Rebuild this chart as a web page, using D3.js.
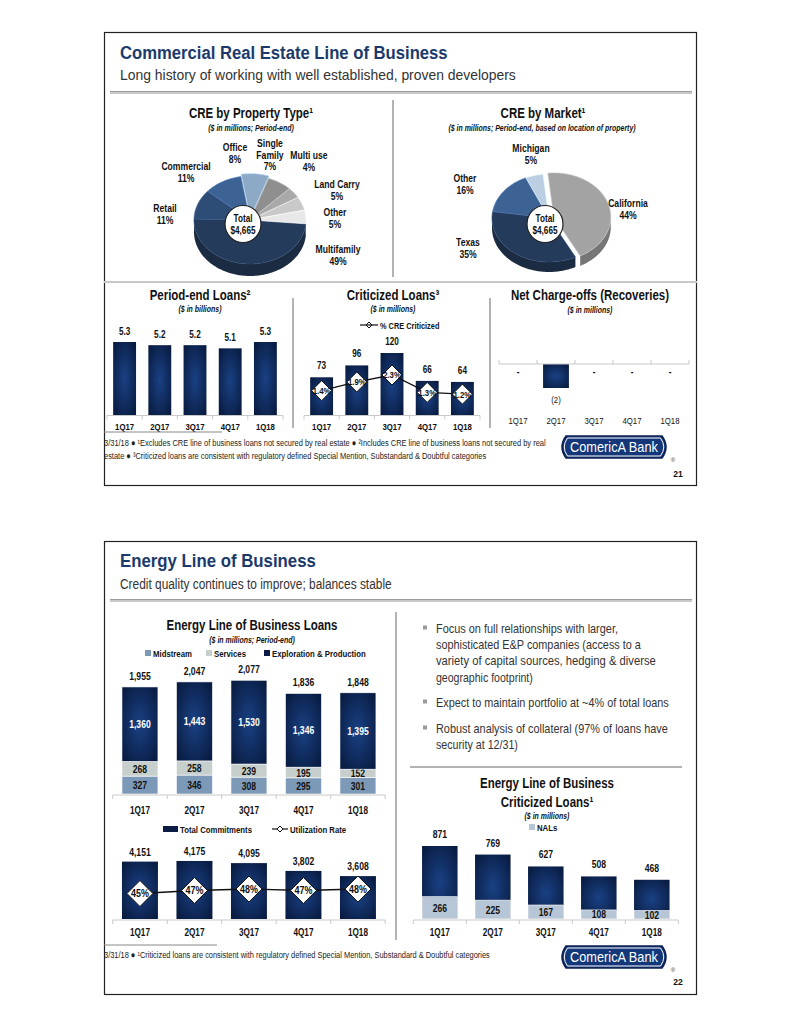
<!DOCTYPE html>
<html><head><meta charset="utf-8">
<script src="https://cdn.jsdelivr.net/npm/d3@7"></script>
<style>
body{margin:0;background:#fff}
svg{display:block}
text{font-family:'Liberation Sans',Arial,sans-serif}
</style></head>
<body><svg id="c" width="791" height="1024"></svg>
<script>
// ---------------- DATA ----------------
const quarters = ["1Q17","2Q17","3Q17","4Q17","1Q18"];
const propertyTypes = ["Multifamily","Retail","Commercial","Office","Single Family","Multi use","Land Carry","Other"];
const propertyPct = [49,11,11,8,7,4,5,5];
const markets = ["California","Texas","Other","Michigan"];
const marketPct = [44,35,16,5];
const creTotalLabel = "$4,665";
const periodEndLoans = [5.3,5.2,5.2,5.1,5.3];
const criticizedLoans = [73,96,120,66,64];
const creCriticizedPct = [1.4,1.9,2.3,1.3,1.2];
const netChargeOffs = [0,-2,0,0,0];
const energySeries = ["Midstream","Services","Exploration & Production"];
const midstream = [327,346,308,295,301];
const services = [268,258,239,195,152];
const explorationProduction = [1360,1443,1530,1346,1395];
const energyTotals = [1955,2047,2077,1836,1848];
const totalCommitments = [4151,4175,4095,3802,3608];
const utilizationRate = [45,47,48,47,48];
const energyCriticized = [871,769,627,508,468];
const energyNALs = [266,225,167,108,102];
const bullets = [
  ["Focus on full relationships with larger,","sophisticated E&P companies (access to a","variety of capital sources, hedging & diverse","geographic footprint)"],
  ["Expect to maintain portfolio at ~4% of total loans"],
  ["Robust analysis of collateral (97% of loans have","security at 12/31)"]
];

// ---------------- HELPERS ----------------
const svg = d3.select("#c");
const defs = svg.append("defs");
const rg = defs.append("radialGradient").attr("id","navy").attr("cx","50%").attr("cy","50%").attr("r","75%");
rg.append("stop").attr("offset","0").attr("stop-color","#1a4184");
rg.append("stop").attr("offset","1").attr("stop-color","#061637");
const SX = 0.82;

function T(x,y,s,o={}){
  const t = svg.append("text").text(s)
    .attr("font-size",o.size||10).attr("font-weight",o.bold?"bold":"normal")
    .attr("font-style",o.italic?"italic":"normal")
    .attr("fill",o.fill||"#111").attr("text-anchor",o.anchor||"middle");
  if(o.family) t.attr("font-family",o.family);
  if(o.len){
    t.attr("transform",`translate(${x},${y})`);
    const w = t.node().getComputedTextLength();
    t.attr("transform",`translate(${x},${y}) scale(${o.len/w},1)`);
  } else {
    t.attr("transform",`translate(${x},${y}) scale(${o.sx||SX},1)`);
  }
  return t;
}
function line(x1,y1,x2,y2,c,w){
  svg.append("line").attr("x1",x1).attr("y1",y1).attr("x2",x2).attr("y2",y2)
    .attr("stroke",c).attr("stroke-width",w||1);
}
function axisBase(x,y0,tickUp){
  const [r0,r1]=x.range();
  line(r0,y0,r1,y0,"#c9c9c9",1);
  const n=x.domain().length;
  for(let i=0;i<=n;i++){
    const xx=r0+i*x.step();
    line(xx,y0,xx,y0+(tickUp?-4:4),"#c9c9c9",1);
  }
}
function diamond(g,x,y,h,label,fs,sx){
  g.append("path").attr("d",`M${x},${y-h}L${x+h},${y}L${x},${y+h}L${x-h},${y}Z`)
    .attr("fill","#fff").attr("stroke","#111").attr("stroke-width",1);
  if(label) T(x,y+fs*0.36,label,{size:fs,bold:true,sx:sx||SX});
}
function logo(x,y,num,numY){
  const w=108,h=22;
  svg.append("path").attr("d",`M${x+6},${y} L${x+w-6},${y} Q${x+w+2},${y+h/2} ${x+w-6},${y+h} L${x+6},${y+h} Q${x-2},${y+h/2} ${x+6},${y} Z`)
    .attr("fill","#14377a").attr("stroke","#0b2050").attr("stroke-width",1.5);
  svg.append("path").attr("d",`M${x+7.5},${y+2} L${x+w-7.5},${y+2} Q${x+w-1},${y+h/2} ${x+w-7.5},${y+h-2} L${x+7.5},${y+h-2} Q${x+1},${y+h/2} ${x+7.5},${y+2} Z`)
    .attr("fill","none").attr("stroke","#fff").attr("stroke-width",1);
  T(x+w/2,y+16,"ComericA Bank",{family:"'Liberation Serif',serif",size:15,fill:"#fff",len:88});
  T(x+w+5,y+h+4,"®",{size:6,fill:"#333",sx:1});
  T(x+w+10,numY,num,{size:9.5,bold:true,sx:0.9});
}
function frame(y){
  svg.append("rect").attr("x",104.5).attr("y",y+0.5).attr("width",592).attr("height",453)
    .attr("fill","#fff").attr("stroke","#222").attr("stroke-width",1.2);
}
function headSep(y){
  svg.append("rect").attr("x",110).attr("y",y-1).attr("width",582).attr("height",3).attr("fill","#c8c8c8");
  svg.append("rect").attr("x",110).attr("y",y-1).attr("width",582).attr("height",1).attr("fill","#9c9c9c");
}

// 3D pie
function pie3D(names,vals,colors,cx,cy,rx,ry,depth,start,explode,hole){
  const arcs = d3.pie().sort(null).startAngle(start).endAngle(start+2*Math.PI)(vals);
  const g = svg.append("g");
  const pt=(a,dx,dy,dd)=>[cx+dx+rx*Math.sin(a), cy+dy-ry*Math.cos(a)+(dd||0)];
  const items = arcs.map((a,i)=>{
    const mid=(a.startAngle+a.endAngle)/2, e=explode(names[i]);
    return {a,i,dx:e*Math.sin(mid),dy:-e*Math.cos(mid)*ry/rx};
  });
  items.forEach(({a,i,dx,dy})=>{
    const ranges=[[Math.PI/2,1.5*Math.PI],[2.5*Math.PI,3.5*Math.PI]];
    ranges.forEach(([r0,r1])=>{
      const s=Math.max(a.startAngle,r0), e=Math.min(a.endAngle,r1);
      if(e<=s) return;
      const steps=d3.range(s,e,0.02).concat([e]);
      const top=steps.map(t=>pt(t,dx,dy));
      const bot=steps.slice().reverse().map(t=>pt(t,dx,dy,depth));
      g.append("path").attr("d","M"+top.concat(bot).map(p=>p.join(",")).join("L")+"Z")
        .attr("fill",d3.color(colors[i]).darker(0.9));
    });
  });
  items.forEach(({a,i,dx,dy})=>{
    const steps=d3.range(a.startAngle,a.endAngle,0.02).concat([a.endAngle]);
    const pts=[[cx+dx,cy+dy]].concat(steps.map(t=>pt(t,dx,dy)));
    g.append("path").attr("d","M"+pts.map(p=>p.join(",")).join("L")+"Z")
      .attr("fill",colors[i]).attr("stroke",d3.color(colors[i]).brighter(0.6)).attr("stroke-width",0.6);
  });
  g.append("ellipse").attr("cx",hole[0]).attr("cy",hole[1]).attr("rx",18).attr("ry",18.5)
    .attr("fill","#fff").attr("stroke","#222").attr("stroke-width",1.2);
  T(hole[0],hole[1]-2,"Total",{size:10,bold:true});
  T(hole[0],hole[1]+10,creTotalLabel,{size:10,bold:true});
}
function pieLabel(x,ys,lines){
  lines.forEach((s,k)=>T(x,ys+k*11.5,s,{size:10.5,bold:true}));
}

// ================= SLIDE 1 =================
frame(32);
T(120,58.5,"Commercial Real Estate Line of Business",{size:18,bold:true,fill:"#1b3a6b",anchor:"start",len:328});
T(120,80,"Long history of working with well established, proven developers",{size:14.5,fill:"#333",anchor:"start",len:396});
headSep(92);

T(251,118,"CRE by Property Type¹",{size:14,bold:true});
T(251,131,"($ in millions; Period-end)",{size:8.5,bold:true,italic:true});
T(543,118,"CRE by Market¹",{size:14,bold:true});
T(542,131,"($ in millions; Period-end, based on location of property)",{size:8.5,bold:true,italic:true});
line(393,100,393,277,"#9a9a9a",1.5);
line(104,282,697,282,"#c8c8c8",2);

const propColors=["#253b5b","#2e4d76","#3d6294","#8caac6","#8f8f8f","#a9a9a9","#c9c9c9","#e8e8e8"];
pie3D(propertyTypes,propertyPct,propColors,250,220,56,44,12,95*Math.PI/180,
  n=>n==="Office"?3:0,[243,224]);
const pl = (n)=>propertyPct[propertyTypes.indexOf(n)]+"%";
pieLabel(235,151,["Office",pl("Office")]);
pieLabel(270,147,["Single","Family",pl("Single Family")]);
pieLabel(309,159,["Multi use",pl("Multi use")]);
pieLabel(186,170,["Commercial",pl("Commercial")]);
pieLabel(337,188,["Land Carry",pl("Land Carry")]);
pieLabel(165,212,["Retail",pl("Retail")]);
pieLabel(335,216,["Other",pl("Other")]);
pieLabel(338,253,["Multifamily",pl("Multifamily")]);

const mktColors=["#a3a3a3","#253b5b","#3d6294","#bccfe2"];
pie3D(markets,marketPct,mktColors,549,218,57,44,10,-6*Math.PI/180,
  n=>n==="California"?5:0,[545,224]);
const ml=(n)=>marketPct[markets.indexOf(n)]+"%";
pieLabel(531,152,["Michigan",ml("Michigan")]);
pieLabel(465,182,["Other",ml("Other")]);
pieLabel(628,207,["California",ml("California")]);
pieLabel(468,246,["Texas",ml("Texas")]);

// Period-end loans
T(200,300,"Period-end Loans²",{size:14,bold:true});
T(200,312,"($ in billions)",{size:8.5,bold:true,italic:true});
{
  const x=d3.scaleBand().domain(quarters).range([107,283]).paddingInner(0.35).paddingOuter(0.175);
  const y=d3.scaleLinear().domain([3,5.3]).range([415,342]);
  svg.append("g").selectAll("rect").data(periodEndLoans).join("rect")
    .attr("x",(d,i)=>x(quarters[i])).attr("width",x.bandwidth())
    .attr("y",d=>y(d)).attr("height",d=>y(3)-y(d)).attr("fill","url(#navy)");
  axisBase(x,415.5);
  periodEndLoans.forEach((d,i)=>T(x(quarters[i])+x.bandwidth()/2,y(d)-7,d3.format(".1f")(d),{size:10,bold:true}));
  quarters.forEach(q=>T(x(q)+x.bandwidth()/2,429.5,q,{size:9.5,bold:true}));
}
line(293,298,293,428,"#9a9a9a",1.5);

// Criticized loans
T(393,300,"Criticized Loans³",{size:14,bold:true});
T(393,312,"($ in millions)",{size:8.5,bold:true,italic:true});
{
  const g=svg.append("g");
  line(360,325,378,325,"#111",1.2);
  diamond(g,369,325,3,null,0);
  T(380,328.5,"% CRE Criticized",{size:9,bold:true,anchor:"start"});
  const x=d3.scaleBand().domain(quarters).range([304,480]).paddingInner(0.35).paddingOuter(0.175);
  const y=d3.scaleLinear().domain([0,120]).range([415,353]);
  const y2=d3.scaleLinear().domain([0,2.3]).range([415,375]);
  g.selectAll("rect").data(criticizedLoans).join("rect")
    .attr("x",(d,i)=>x(quarters[i])).attr("width",x.bandwidth())
    .attr("y",d=>y(d)).attr("height",d=>y(0)-y(d)).attr("fill","url(#navy)");
  axisBase(x,415.5);
  criticizedLoans.forEach((d,i)=>T(x(quarters[i])+x.bandwidth()/2,y(d)-8,d,{size:10,bold:true}));
  const cxs=quarters.map(q=>x(q)+x.bandwidth()/2);
  g.append("path").attr("d",d3.line().x((d,i)=>cxs[i]).y(d=>y2(d))(creCriticizedPct))
    .attr("fill","none").attr("stroke","#111").attr("stroke-width",1.3);
  creCriticizedPct.forEach((d,i)=>diamond(g,cxs[i],y2(d),10,d3.format(".1f")(d)+"%",9.5,0.82));
  quarters.forEach(q=>T(x(q)+x.bandwidth()/2,429.5,q,{size:9.5,bold:true}));
}
line(490,298,490,428,"#9a9a9a",1.5);

// Net charge-offs
T(590,300,"Net Charge-offs (Recoveries)",{size:14,bold:true});
T(590,313,"($ in millions)",{size:8.5,bold:true,italic:true});
{
  const x=d3.scaleBand().domain(quarters).range([499,689]).paddingInner(0.32).paddingOuter(0.16);
  const y=d3.scaleLinear().domain([-2,0]).range([388,364]);
  svg.append("g").selectAll("rect").data(netChargeOffs).join("rect")
    .attr("x",(d,i)=>x(quarters[i])).attr("width",x.bandwidth())
    .attr("y",d=>y(Math.max(0,d))).attr("height",d=>Math.abs(y(d)-y(0))).attr("fill","url(#navy)");
  axisBase(x,364,true);
  netChargeOffs.forEach((d,i)=>{
    const cx=x(quarters[i])+x.bandwidth()/2;
    if(d===0) T(cx,375,"-",{size:10,bold:true});
    else T(cx,y(d)+15,"("+Math.abs(d)+")",{size:9.5});
  });
  quarters.forEach(q=>T(x(q)+x.bandwidth()/2,423.5,q,{size:9.5}));
}

// footnote
line(104,432,222,432,"#888",1);
T(104,446,"3/31/18 ● ¹Excludes CRE line of business loans not secured by real estate ● ²Includes CRE line of business loans not secured by real",{size:9,anchor:"start",fill:"#222",len:442});
T(104,459,"estate ● ³Criticized loans are consistent with regulatory defined Special Mention, Substandard & Doubtful categories",{size:9,anchor:"start",fill:"#222",len:383});
logo(560,436,"21",477);

// ================= SLIDE 2 =================
frame(541);
T(120,566.5,"Energy Line of Business",{size:18,bold:true,fill:"#1b3a6b",anchor:"start",len:196});
T(120,588.5,"Credit quality continues to improve; balances stable",{size:14.5,fill:"#333",anchor:"start",len:272});
headSep(600);
line(396,612,396,940,"#9a9a9a",1.5);

T(252,630,"Energy Line of Business Loans",{size:14,bold:true});
T(252,643,"($ in millions; Period-end)",{size:8.5,bold:true,italic:true});
const energyColors=["#7d99b8","#c6cfcb","url(#navy)"];
const legendColors=["#7d99b8","#c6cfcb","#0a1c44"];
{
  const lx=[145,206,264];
  energySeries.forEach((s,k)=>{
    svg.append("rect").attr("x",lx[k]).attr("y",650).attr("width",6).attr("height",6).attr("fill",legendColors[k]);
    T(lx[k]+8,656.5,s,{size:9.5,bold:true,anchor:"start"});
  });
  const rows=quarters.map((q,i)=>({q,"Midstream":midstream[i],"Services":services[i],"Exploration & Production":explorationProduction[i]}));
  const st=d3.stack().keys(energySeries)(rows);
  const x=d3.scaleBand().domain(quarters).range([112.7,385.2]).paddingInner(0.34).paddingOuter(0.17);
  const y=d3.scaleLinear().domain([0,2100]).range([794,679]);
  st.forEach((layer,k)=>{
    svg.append("g").selectAll("rect").data(layer).join("rect")
      .attr("x",d=>x(d.data.q)).attr("width",x.bandwidth())
      .attr("y",d=>y(d[1])).attr("height",d=>y(d[0])-y(d[1]))
      .attr("fill",energyColors[k]).attr("stroke","#fff").attr("stroke-width",0.6);
    layer.forEach(d=>T(x(d.data.q)+x.bandwidth()/2,(y(d[0])+y(d[1]))/2+4,d3.format(",")(d[1]-d[0]),
      {size:10.5,bold:true,fill:k===2?"#fff":"#111"}));
  });
  axisBase(x,795);
  energyTotals.forEach((d,i)=>T(x(quarters[i])+x.bandwidth()/2,y(d)-7,d3.format(",")(d),{size:10.5,bold:true}));
  quarters.forEach(q=>T(x(q)+x.bandwidth()/2,813.5,q,{size:10,bold:true}));

  svg.append("rect").attr("x",163).attr("y",826).attr("width",15).attr("height",6).attr("fill","#0a1c44");
  T(180,832.5,"Total Commitments",{size:9.5,bold:true,anchor:"start"});
  line(272,829,288,829,"#111",1.2);
  const gl=svg.append("g");
  diamond(gl,280,829,3,null,0);
  T(290,832.5,"Utilization Rate",{size:9.5,bold:true,anchor:"start"});
  const yc=d3.scaleLinear().domain([2000,4200]).range([919,860.3]);
  const yu=d3.scaleLinear().domain([0,100]).range([961,811]);
  svg.append("g").selectAll("rect").data(totalCommitments).join("rect")
    .attr("x",(d,i)=>x(quarters[i])).attr("width",x.bandwidth())
    .attr("y",d=>yc(d)).attr("height",d=>yc(2000)-yc(d)).attr("fill","url(#navy)");
  axisBase(x,920);
  totalCommitments.forEach((d,i)=>T(x(quarters[i])+x.bandwidth()/2,yc(d)-6,d3.format(",")(d),{size:10.5,bold:true}));
  const cxs=quarters.map(q=>x(q)+x.bandwidth()/2);
  const g2=svg.append("g");
  g2.append("path").attr("d",d3.line().x((d,i)=>cxs[i]).y(d=>yu(d))(utilizationRate))
    .attr("fill","none").attr("stroke","#111").attr("stroke-width",1.3);
  utilizationRate.forEach((d,i)=>diamond(g2,cxs[i],yu(d),13,d+"%",10.5,0.85));
  quarters.forEach(q=>T(x(q)+x.bandwidth()/2,935.5,q,{size:10,bold:true}));
}

{
  const lens=[[182,205,220,97],[233],[232,82]];
  const starts=[632.5,706.5,732.5];
  bullets.forEach((b,k)=>{
    svg.append("rect").attr("x",423).attr("y",starts[k]-7).attr("width",4).attr("height",4).attr("fill","#9a9a9a");
    b.forEach((s,j)=>T(436,starts[k]+j*16.4,s,{size:13,fill:"#333",anchor:"start",len:lens[k][j]}));
  });
}
line(410,767,682,767,"#9a9a9a",1.5);

T(547,788,"Energy Line of Business",{size:14,bold:true});
T(547,807,"Criticized Loans¹",{size:14,bold:true});
T(547,819,"($ in millions)",{size:8.5,bold:true,italic:true});
{
  svg.append("rect").attr("x",529).attr("y",824).attr("width",6).attr("height",6).attr("fill","#b7c6d6");
  T(537,830.5,"NALs",{size:9.5,bold:true,anchor:"start"});
  const x=d3.scaleBand().domain(quarters).range([413.3,678.3]).paddingInner(0.33).paddingOuter(0.165);
  const y=d3.scaleLinear().domain([0,871]).range([919,846]);
  svg.append("g").selectAll("rect").data(energyCriticized).join("rect")
    .attr("x",(d,i)=>x(quarters[i])).attr("width",x.bandwidth())
    .attr("y",d=>y(d)).attr("height",d=>y(0)-y(d)).attr("fill","url(#navy)");
  svg.append("g").selectAll("rect").data(energyNALs).join("rect")
    .attr("x",(d,i)=>x(quarters[i])).attr("width",x.bandwidth())
    .attr("y",d=>y(d)).attr("height",d=>y(0)-y(d)).attr("fill","#b7c6d6").attr("stroke","#fff").attr("stroke-width",0.6);
  axisBase(x,920);
  energyCriticized.forEach((d,i)=>T(x(quarters[i])+x.bandwidth()/2,y(d)-8,d,{size:10.5,bold:true}));
  energyNALs.forEach((d,i)=>T(x(quarters[i])+x.bandwidth()/2,Math.min((y(d)+y(0))/2+4,918.5),d,{size:10.5,bold:true}));
  quarters.forEach(q=>T(x(q)+x.bandwidth()/2,935.5,q,{size:10,bold:true}));
}

line(104,945,217,945,"#888",1);
T(104,958,"3/31/18 ● ¹Criticized loans are consistent with regulatory defined Special Mention, Substandard & Doubtful categories",{size:9,anchor:"start",fill:"#222",len:386});
logo(560,946,"22",985);
</script></body></html>
